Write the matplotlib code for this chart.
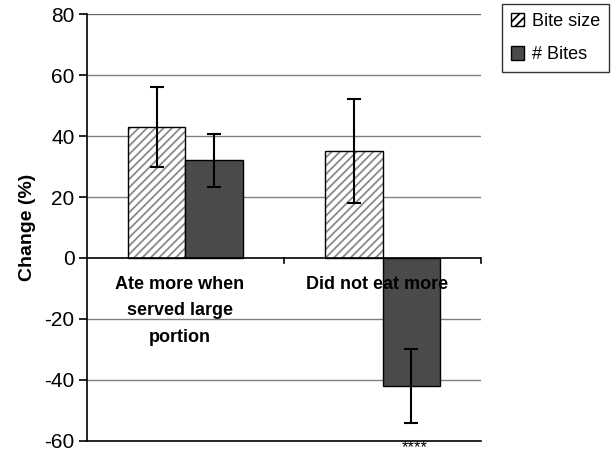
import matplotlib.pyplot as plt
import numpy as np
from matplotlib.patches import Patch

plt.rcParams['font.family'] = ['Liberation Sans', 'DejaVu Sans']
plt.rcParams['axes.unicode_minus'] = False
plt.rcParams['hatch.linewidth'] = 1.3

# data
groups = ["Ate more when\nserved large\nportion", "Did not eat more"]
bite_size = [43, 35]
bite_size_err = [13, 17]
n_bites = [32, -42]
n_bites_err = [8.7, 12]

x = np.arange(len(groups))
w = 0.29
dark = "#4a4a4a"

fig = plt.figure(figsize=(6.12, 4.55), dpi=100)
ax = fig.add_axes([0.142, 0.031, 0.644, 0.938])

# gridlines
for yv in range(-40, 81, 20):
    if yv != 0:
        ax.axhline(yv, color="#808080", lw=1.0, zorder=0)

# bite size: hatch in grey, outline in black
ax.bar(x - w / 2, bite_size, w, color="white", edgecolor="#8a8a8a",
       hatch="////", lw=0, zorder=2)
ax.bar(x - w / 2, bite_size, w, fill=False, edgecolor="black", lw=1.0,
       zorder=3)
ax.bar(x + w / 2, n_bites, w, color=dark, edgecolor="black", lw=1.0,
       zorder=3)

ax.errorbar(x - w / 2, bite_size, yerr=bite_size_err, fmt="none",
            ecolor="black", elinewidth=1.5, capsize=5, capthick=1.5, zorder=4)
ax.errorbar(x + w / 2, n_bites, yerr=n_bites_err, fmt="none",
            ecolor="black", elinewidth=1.5, capsize=5, capthick=1.5, zorder=4)

# zero axis with category boundary ticks
ax.axhline(0, color="black", lw=1.2, zorder=5)
for xb in [0.5, 1.5]:
    ax.plot([xb, xb], [0, -1.8], color="black", lw=1.2, zorder=5,
            clip_on=False)

# category labels
for xi, g in zip(x, groups):
    ax.text(xi - 0.03, -5.8, g, ha="center", va="top", fontsize=13,
            fontweight="bold", linespacing=1.75, zorder=6)

# significance marker just under the axis
ax.annotate("****", xy=(x[1] + w / 2 + 0.02, 0), xycoords=("data", "figure fraction"),
            xytext=(0, 0), textcoords="offset points",
            ha="center", va="bottom", fontsize=12)

ax.set_xlim(-0.5, 1.5)
ax.set_ylim(-60, 80)
ax.set_yticks(range(-60, 81, 20))
ax.set_xticks([])
ax.tick_params(axis="y", labelsize=15, length=6, width=1.2, direction="out",
               pad=3)
ax.spines["top"].set_visible(False)
ax.spines["right"].set_visible(False)
ax.spines["left"].set_linewidth(1.2)
ax.spines["bottom"].set_linewidth(1.2)
ax.axhline(80, color="#606060", lw=1.2, zorder=0)

ax.set_ylabel("Change (%)", fontsize=14, fontweight="bold", labelpad=6)

handles = [Patch(facecolor="white", edgecolor="black", hatch="////",
                 label="Bite size"),
           Patch(facecolor=dark, edgecolor="black", label="# Bites")]
leg = ax.legend(handles=handles, loc="upper left",
                bbox_to_anchor=(1.03, 1.045), frameon=True,
                fancybox=False, edgecolor="black", fontsize=13,
                handlelength=0.75, handleheight=0.75, handletextpad=0.4,
                labelspacing=0.9, borderpad=0.5)
leg.get_frame().set_linewidth(1.0)

fig.savefig("out.png", dpi=100)
